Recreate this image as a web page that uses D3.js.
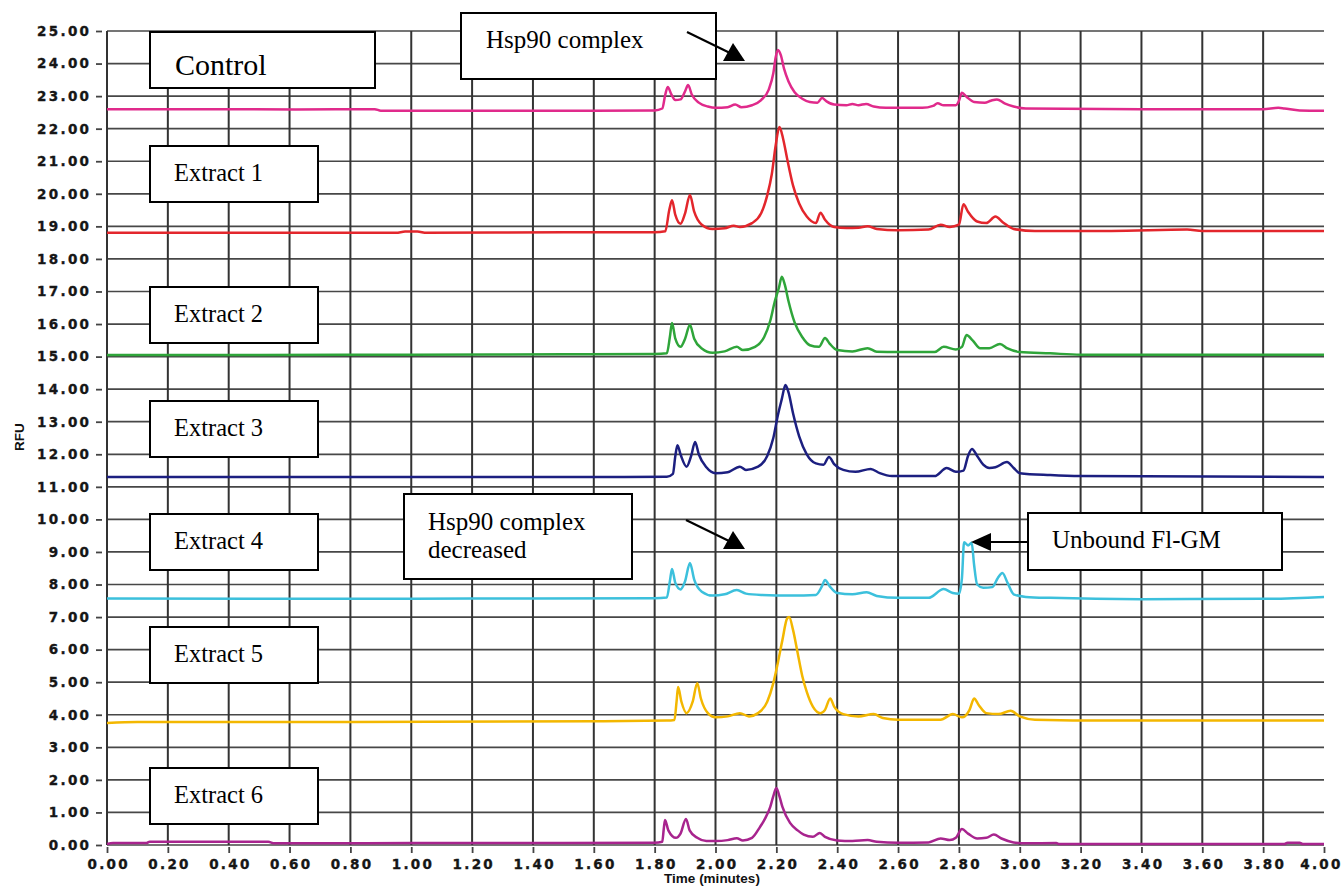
<!DOCTYPE html>
<html lang="en">

<head>
  <meta charset="utf-8">
  <title>Hsp90 complex - capillary traces</title>
  <script src="https://d3js.org/d3.v7.min.js"></script>
  <style>
    body { margin: 0; background: #fff; }
    .tick text { font-family: "DejaVu Sans", Verdana, sans-serif; font-weight: bold; font-size: 13.5px; letter-spacing: 2.3px; fill: #161616; stroke: #161616; stroke-width: 0.35px; }
    .note text { font-family: "Liberation Serif", "Times New Roman", serif; fill: #000; }
    .axis-title { font-family: "Liberation Sans", Arial, sans-serif; font-weight: bold; font-size: 13.5px; fill: #111; }
  </style>
</head>

<body>
  <script type="text/javascript">
  // time ticks (minutes) and RFU ticks
  var timeTicks = d3.range(0, 21).map(function(i){ return i * 0.2; });
  var rfuTicks = d3.range(0, 26);

  var seriesNames = ['Control', 'Extract 1', 'Extract 2', 'Extract 3', 'Extract 4', 'Extract 5', 'Extract 6'];
  var seriesColors = ['#e02a8b', '#e3262c', '#2fa53a', '#1c1f80', '#3cc0dc', '#f3b700', '#a8248e'];

  // [time, RFU]
  var control = [
    [0.00,22.60],[0.30,22.60],[0.62,22.59],[0.88,22.60],[0.90,22.55],[1.20,22.55],[1.60,22.55],[1.80,22.56],
    [1.825,22.62],[1.835,23.05],[1.843,23.28],[1.855,23.05],[1.868,22.88],[1.885,22.90],[1.900,23.15],[1.910,23.34],
    [1.922,23.05],[1.945,22.80],[1.975,22.68],[2.00,22.64],[2.04,22.66],[2.065,22.74],[2.085,22.66],[2.12,22.72],
    [2.15,22.88],[2.175,23.20],[2.19,23.70],[2.198,24.20],[2.205,24.42],[2.215,24.25],[2.225,23.85],[2.24,23.45],
    [2.26,23.12],[2.285,22.92],[2.31,22.82],[2.335,22.80],[2.35,22.94],[2.365,22.84],[2.39,22.74],[2.43,22.72],
    [2.45,22.76],[2.47,22.72],[2.495,22.76],[2.52,22.68],[2.56,22.64],[2.68,22.64],[2.715,22.70],[2.73,22.78],
    [2.75,22.72],[2.79,22.72],[2.80,22.85],[2.81,23.10],[2.825,22.98],[2.85,22.82],[2.885,22.80],[2.905,22.86],
    [2.925,22.90],[2.95,22.78],[2.98,22.68],[3.02,22.62],[3.40,22.60],[3.80,22.60],[3.85,22.64],[3.87,22.62],
    [3.92,22.56],[4.00,22.55]
  ];
  var extract1 = [
    [0.00,18.80],[0.40,18.80],[0.95,18.80],[0.98,18.84],[1.02,18.84],[1.05,18.80],[1.50,18.82],[1.80,18.82],
    [1.835,18.85],[1.848,19.50],[1.857,19.80],[1.868,19.35],[1.885,19.08],[1.900,19.40],[1.916,19.96],[1.93,19.45],
    [1.955,19.05],[1.99,18.92],[2.03,18.94],[2.06,19.02],[2.08,18.98],[2.12,19.10],[2.15,19.40],[2.17,19.95],
    [2.185,20.60],[2.198,21.50],[2.21,22.05],[2.222,21.70],[2.235,21.10],[2.255,20.25],[2.275,19.70],[2.30,19.30],
    [2.33,19.10],[2.345,19.42],[2.36,19.20],[2.39,18.98],[2.43,18.95],[2.47,18.96],[2.50,19.00],[2.53,18.92],
    [2.60,18.88],[2.70,18.90],[2.74,19.05],[2.77,18.98],[2.80,19.05],[2.815,19.68],[2.83,19.45],[2.86,19.15],
    [2.89,19.10],[2.92,19.30],[2.945,19.12],[2.98,18.92],[3.05,18.86],[3.30,18.86],[3.55,18.90],[3.60,18.86],
    [4.00,18.86]
  ];
  var extract2 = [
    [0.00,15.05],[0.50,15.05],[1.00,15.06],[1.50,15.07],[1.80,15.08],[1.84,15.10],[1.85,15.60],[1.857,16.03],
    [1.868,15.55],[1.885,15.30],[1.900,15.55],[1.916,15.97],[1.93,15.55],[1.955,15.25],[1.99,15.12],[2.03,15.16],
    [2.07,15.30],[2.09,15.20],[2.13,15.30],[2.16,15.60],[2.18,16.10],[2.195,16.70],[2.208,17.10],[2.218,17.45],
    [2.228,17.20],[2.24,16.70],[2.26,16.05],[2.285,15.60],[2.31,15.35],[2.34,15.30],[2.36,15.57],[2.375,15.40],
    [2.40,15.20],[2.45,15.16],[2.50,15.26],[2.53,15.15],[2.60,15.14],[2.72,15.14],[2.75,15.30],[2.79,15.22],
    [2.81,15.30],[2.825,15.66],[2.845,15.50],[2.87,15.26],[2.90,15.26],[2.935,15.39],[2.96,15.25],[3.00,15.14],
    [3.10,15.10],[3.20,15.06],[4.00,15.06]
  ];
  var extract3 = [
    [0.00,11.30],[0.60,11.30],[1.20,11.30],[1.70,11.30],[1.84,11.31],[1.86,11.40],[1.868,11.95],[1.875,12.28],
    [1.885,12.00],[1.905,11.62],[1.92,11.95],[1.933,12.38],[1.945,12.00],[1.97,11.60],[2.00,11.42],[2.04,11.45],
    [2.08,11.62],[2.10,11.52],[2.14,11.62],[2.17,11.95],[2.19,12.50],[2.205,13.20],[2.218,13.70],[2.23,14.13],
    [2.24,13.90],[2.255,13.25],[2.275,12.55],[2.30,12.00],[2.33,11.72],[2.355,11.68],[2.373,11.92],[2.39,11.70],
    [2.42,11.52],[2.46,11.46],[2.51,11.55],[2.54,11.42],[2.58,11.33],[2.72,11.33],[2.76,11.58],[2.79,11.46],
    [2.815,11.50],[2.83,11.95],[2.843,12.16],[2.86,11.95],[2.88,11.68],[2.90,11.58],[2.92,11.60],[2.958,11.76],
    [2.98,11.58],[3.00,11.42],[3.10,11.36],[3.20,11.33],[4.00,11.30]
  ];
  var extract4 = [
    [0.00,7.57],[0.60,7.56],[1.20,7.57],[1.80,7.58],[1.84,7.60],[1.85,8.10],[1.857,8.48],[1.868,8.05],
    [1.885,7.85],[1.900,8.10],[1.916,8.66],[1.93,8.15],[1.955,7.78],[1.99,7.66],[2.03,7.70],[2.07,7.83],
    [2.10,7.72],[2.15,7.68],[2.25,7.66],[2.33,7.68],[2.35,7.95],[2.36,8.14],[2.375,7.95],[2.40,7.74],
    [2.45,7.70],[2.497,7.76],[2.53,7.65],[2.60,7.59],[2.70,7.59],[2.75,7.86],[2.78,7.74],[2.80,7.72],
    [2.81,8.20],[2.817,9.30],[2.83,9.20],[2.842,9.28],[2.85,8.60],[2.86,8.00],[2.88,7.90],[2.91,7.92],
    [2.928,8.20],[2.943,8.35],[2.96,8.05],[2.98,7.70],[3.02,7.62],[3.10,7.59],[3.40,7.55],[3.80,7.56],
    [4.00,7.62]
  ];
  var extract5 = [
    [0.00,3.75],[0.10,3.78],[0.80,3.78],[1.60,3.80],[1.84,3.82],[1.865,3.84],[1.872,4.40],[1.877,4.85],
    [1.888,4.40],[1.905,4.05],[1.925,4.40],[1.94,4.97],[1.952,4.50],[1.975,4.05],[2.00,3.92],[2.04,3.95],
    [2.08,4.05],[2.11,3.95],[2.14,4.05],[2.17,4.40],[2.19,4.97],[2.205,5.60],[2.22,6.30],[2.235,6.95],
    [2.242,7.00],[2.255,6.60],[2.27,5.90],[2.285,5.20],[2.30,4.70],[2.32,4.25],[2.345,4.05],[2.36,4.15],
    [2.377,4.50],[2.39,4.25],[2.42,4.02],[2.47,3.95],[2.52,4.02],[2.55,3.90],[2.60,3.85],[2.74,3.85],
    [2.78,4.02],[2.81,3.92],[2.835,4.15],[2.85,4.50],[2.865,4.30],[2.89,4.05],[2.93,4.02],[2.97,4.12],
    [3.00,3.95],[3.05,3.85],[3.30,3.82],[4.00,3.82]
  ];
  var extract6 = [
    [0.00,0.03],[0.02,0.06],[0.13,0.06],[0.14,0.10],[0.53,0.10],[0.55,0.05],[0.70,0.05],[1.00,0.06],
    [1.50,0.06],[1.80,0.07],[1.825,0.10],[1.83,0.50],[1.834,0.77],[1.845,0.45],[1.87,0.22],[1.885,0.35],
    [1.903,0.80],[1.915,0.45],[1.94,0.22],[1.97,0.12],[2.00,0.12],[2.04,0.15],[2.07,0.21],[2.09,0.14],
    [2.12,0.22],[2.146,0.55],[2.165,0.85],[2.18,1.17],[2.19,1.50],[2.20,1.75],[2.21,1.50],[2.22,1.17],
    [2.245,0.68],[2.27,0.45],[2.29,0.32],[2.32,0.25],[2.343,0.37],[2.36,0.25],[2.40,0.14],[2.45,0.12],
    [2.50,0.15],[2.53,0.10],[2.60,0.07],[2.70,0.08],[2.74,0.20],[2.77,0.15],[2.79,0.22],[2.81,0.49],
    [2.83,0.35],[2.86,0.20],[2.89,0.22],[2.915,0.32],[2.94,0.20],[2.98,0.08],[3.02,0.05],[3.12,0.06],
    [3.13,0.03],[3.87,0.03],[3.88,0.07],[3.92,0.07],[3.93,0.03],[4.00,0.03]
  ];
  var traces = [control, extract1, extract2, extract3, extract4, extract5, extract6];

  var w = 1342, h = 886;
  var margin = {top: 31, right: 18, bottom: 41, left: 107};
  var innerW = w - margin.left - margin.right,
    innerH = h - margin.top - margin.bottom;

  var svg = d3.select('body').append('svg')
      .attr('width', w)
      .attr('height', h);
  var g = svg.append('g')
      .attr('transform', 'translate(' + [margin.left, margin.top] + ')');

  var x = d3.scaleLinear().domain([0, 4]).range([0, innerW]);
  var y = d3.scaleLinear().domain([0, 25]).range([innerH, 0]);
  var fmt = d3.format('.2f');

  // grid
  g.append('g').selectAll('line')
    .data(rfuTicks)
    .enter().append('line')
      .attr('x1', 0).attr('x2', innerW)
      .attr('y1', function(d){ return y(d); })
      .attr('y2', function(d){ return y(d); })
      .style('stroke', '#474747')
      .style('stroke-width', 1.7);
  g.append('g').selectAll('line')
    .data(timeTicks.filter(function(d){ return d < 3.99; }))
    .enter().append('line')
      .attr('x1', function(d){ return x(d); })
      .attr('x2', function(d){ return x(d); })
      .attr('y1', 0).attr('y2', innerH)
      .style('stroke', '#333')
      .style('stroke-width', 2);

  // axes (ticks sit a little away from the frame)
  var yAxis = g.append('g')
    .attr('transform', 'translate(-5,0)')
    .call(d3.axisLeft(y).tickValues(rfuTicks).tickFormat(fmt).tickSize(6).tickPadding(7));
  yAxis.select('.domain').remove();
  yAxis.selectAll('.tick line').style('stroke', '#444').style('stroke-width', 1.8);
  yAxis.selectAll('.tick text').attr('dx', '2.3px');

  var xAxis = g.append('g')
    .attr('transform', 'translate(0,' + (innerH + 2) + ')')
    .call(d3.axisBottom(x).tickValues(timeTicks).tickFormat(fmt).tickSize(6).tickPadding(6));
  xAxis.select('.domain').remove();
  xAxis.selectAll('.tick line').style('stroke', '#444').style('stroke-width', 1.8);
  xAxis.selectAll('.tick text').attr('dx', function(d){ return d > 3.99 ? '-3px' : '1.2px'; });

  g.append('line')
    .attr('x1', 0).attr('x2', 0).attr('y1', 0).attr('y2', innerH)
    .style('stroke', '#333').style('stroke-width', 2);

  // traces
  var line = d3.line()
    .curve(d3.curveMonotoneX)
    .x(function(d){ return x(d[0]); })
    .y(function(d){ return y(d[1]); });

  g.selectAll('path.trace')
    .data(traces)
    .enter().append('path')
      .attr('class', 'trace')
      .style('fill', 'none')
      .style('stroke', function(d, i){ return seriesColors[i]; })
      .style('stroke-width', 2.5)
      .style('stroke-linejoin', 'round')
      .attr('d', line);

  // axis titles
  svg.append('text')
    .attr('class', 'axis-title')
    .attr('transform', 'translate(24,437) rotate(-90)')
    .attr('text-anchor', 'middle')
    .text('RFU');
  svg.append('text')
    .attr('class', 'axis-title')
    .attr('x', 712).attr('y', 883)
    .attr('text-anchor', 'middle')
    .text('Time (minutes)');

  // name boxes
  var boxTops = [32, 146, 287, 401, 514, 627, 768];
  var notes = svg.append('g').attr('class', 'note');
  seriesNames.forEach(function(name, i) {
    var bw = i === 0 ? 225 : 168;
    notes.append('rect')
      .attr('x', 150).attr('y', boxTops[i])
      .attr('width', bw).attr('height', 56)
      .style('fill', '#fff').style('stroke', '#000').style('stroke-width', 2);
    notes.append('text')
      .attr('x', i === 0 ? 175 : 174)
      .attr('y', boxTops[i] + (i === 0 ? 43 : 35))
      .style('font-size', i === 0 ? '30px' : '24.5px')
      .text(name);
  });

  function box(bx, by, bw, bh) {
    notes.append('rect')
      .attr('x', bx).attr('y', by).attr('width', bw).attr('height', bh)
      .style('fill', '#fff').style('stroke', '#000').style('stroke-width', 2);
  }
  function label(tx, ty, s) {
    notes.append('text').attr('x', tx).attr('y', ty).style('font-size', '25px').text(s);
  }
  function arrow(x1, y1, x2, y2, head) {
    notes.append('line')
      .attr('x1', x1).attr('y1', y1).attr('x2', x2).attr('y2', y2)
      .style('stroke', '#000').style('stroke-width', 2.2);
    notes.append('polygon')
      .attr('points', head.map(function(p){ return p.join(','); }).join(' '))
      .style('fill', '#000');
  }

  box(461, 13, 255, 66);
  label(486, 48, 'Hsp90 complex');
  arrow(687, 32, 730, 53, [[733, 43], [723, 61], [745, 61]]);

  box(404, 494, 228, 85);
  label(428, 530, 'Hsp90 complex');
  label(428, 558, 'decreased');
  arrow(686, 520, 729, 541, [[733, 531], [723, 549], [745, 549]]);

  box(1028, 513, 254, 57);
  label(1052, 548, 'Unbound Fl-GM');
  arrow(1028, 542, 988, 542, [[971, 542], [991, 533], [991, 551]]);
  </script>
</body>

</html>
